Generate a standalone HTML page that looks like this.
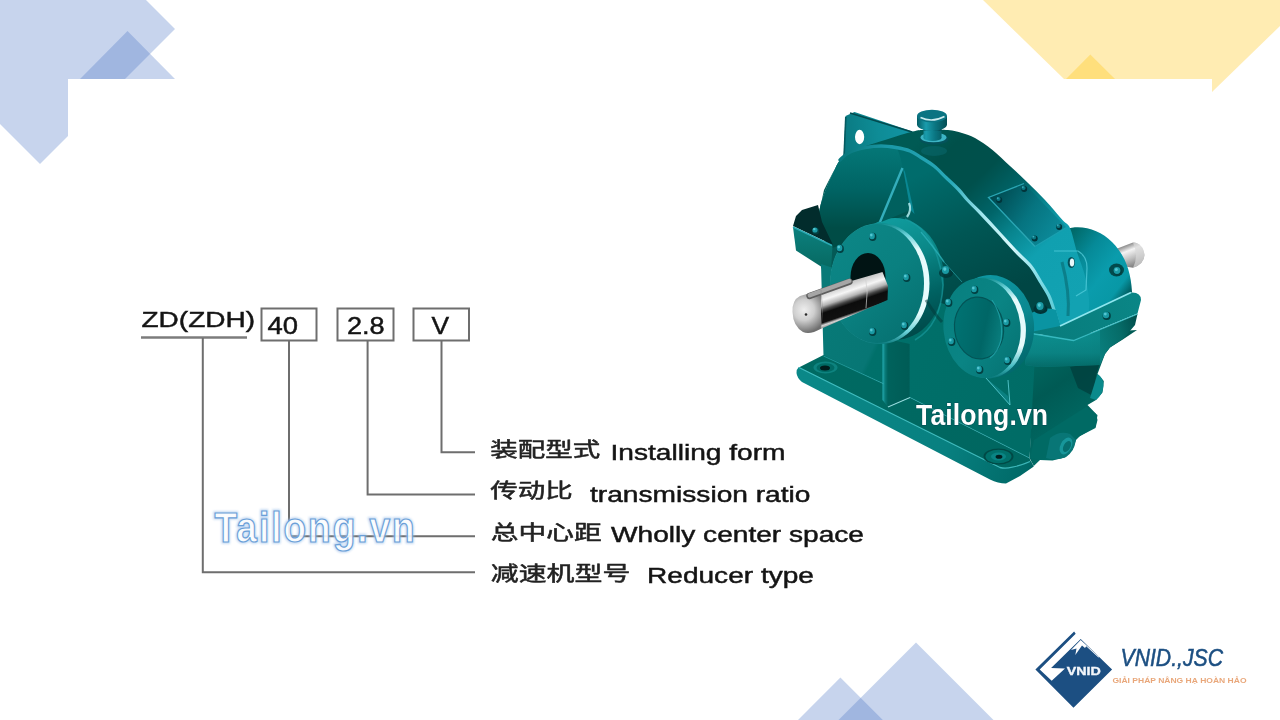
<!DOCTYPE html>
<html lang="vi">
<head>
<meta charset="utf-8">
<title>ZD(ZDH) Reducer type - Tailong.vn</title>
<style>
html,body{margin:0;padding:0;}
body{width:1280px;height:720px;overflow:hidden;background:#fff;position:relative;font-family:"Liberation Sans",sans-serif;}
svg{position:absolute;left:0;top:0;display:block;}
text{font-family:"Liberation Sans",sans-serif;}
</style>
</head>
<body>
<!-- background decoration -->
<svg width="1280" height="720" viewBox="0 0 1280 720">
  <polygon points="0,0 146,0 175,29 125,79 68,79 68,136 40,164 0,124" fill="#4472c4" fill-opacity="0.3"/>
  <polygon points="127.5,31 175,79 80,79" fill="#4472c4" fill-opacity="0.3"/>
  <polygon points="983,0 1280,0 1280,26 1212,92 1212,79 1064,79" fill="#ffc000" fill-opacity="0.3"/>
  <polygon points="1090.3,54.5 1115,79 1066,79" fill="#ffc000" fill-opacity="0.3"/>
  <polygon points="916,642.5 993.5,720 838.5,720" fill="#4472c4" fill-opacity="0.3"/>
  <polygon points="840.4,677.6 882.8,720 798,720" fill="#4472c4" fill-opacity="0.3"/>
</svg>

<!-- model designation diagram -->
<svg width="1280" height="720" viewBox="0 0 1280 720" style="filter:blur(0.6px)">
  <g fill="none" stroke="#6e6e6e" stroke-width="2">
    <line x1="141" y1="337.5" x2="247" y2="337.5" stroke-width="2.6" stroke="#7c7c7c"/>
    <rect x="261.5" y="308.5" width="55" height="32"/>
    <rect x="337.5" y="308.5" width="56" height="32"/>
    <rect x="413.5" y="308.5" width="55.5" height="32"/>
    <polyline points="441.5,341 441.5,452.2 475,452.2"/>
    <polyline points="367.6,341 367.6,494.4 475,494.4"/>
    <polyline points="289,341 289,536.3 475,536.3"/>
    <polyline points="202.8,338 202.8,572.2 475,572.2"/>
  </g>
  <g fill="#141414" stroke="#141414" stroke-width="0.45" font-size="21.6">
    <text x="141.5" y="326.5" textLength="113.5" lengthAdjust="spacingAndGlyphs" font-size="22.7">ZD(ZDH)</text>
    <text x="267.5" y="333.8" textLength="30.5" lengthAdjust="spacingAndGlyphs" font-size="23">40</text>
    <text x="347" y="334.2" textLength="37.7" lengthAdjust="spacingAndGlyphs" font-size="24">2.8</text>
    <text x="431.4" y="333.6" textLength="17.6" lengthAdjust="spacingAndGlyphs" font-size="23.2">V</text>
    <text x="610.5" y="460" textLength="175" lengthAdjust="spacingAndGlyphs" font-size="21.5">Installing form</text>
    <text x="590" y="501.6" textLength="220.5" lengthAdjust="spacingAndGlyphs" font-size="21.5">transmission ratio</text>
    <text x="611" y="542.2" textLength="253" lengthAdjust="spacingAndGlyphs" font-size="21.5">Wholly center space</text>
    <text x="647" y="583.4" textLength="167" lengthAdjust="spacingAndGlyphs" font-size="21.5">Reducer type</text>
  </g>
  <g fill="#222" stroke="#222" stroke-width="0.5" stroke-linejoin="round" font-size="20.5" style="font-family:'Liberation Sans','Noto Sans CJK SC',sans-serif">
<g aria-label="装配型式"><text x="490.3" y="457.2" textLength="110" lengthAdjust="spacingAndGlyphs" style="font-family:'Liberation Sans','Noto Sans CJK SC',sans-serif">装配型式</text></g>
<g aria-label="传动比"><text x="490.3" y="498.4" textLength="82.5" lengthAdjust="spacingAndGlyphs" style="font-family:'Liberation Sans','Noto Sans CJK SC',sans-serif">传动比</text></g>
<g aria-label="总中心距"><text x="490.8" y="540" textLength="110.8" lengthAdjust="spacingAndGlyphs" style="font-family:'Liberation Sans','Noto Sans CJK SC',sans-serif">总中心距</text></g>
<g aria-label="减速机型号"><text x="490.8" y="580.6" textLength="139.5" lengthAdjust="spacingAndGlyphs" style="font-family:'Liberation Sans','Noto Sans CJK SC',sans-serif">减速机型号</text></g>
  </g>
</svg>

<!-- watermark on diagram -->
<svg width="1280" height="720" viewBox="0 0 1280 720">
  <defs>
    <filter id="glow" x="-10%" y="-30%" width="120%" height="160%"><feGaussianBlur stdDeviation="1.1"/></filter>
  </defs>
  <g transform="translate(214.5 542) scale(0.88 1)">
  <text x="0" y="0" textLength="227.5" lengthAdjust="spacing" font-size="42" font-weight="bold" fill="none" stroke="#9cc0ea" stroke-width="3.6" filter="url(#glow)" opacity="0.6">Tailong.vn</text>
  <text x="0" y="0" textLength="227.5" lengthAdjust="spacing" font-size="42" font-weight="bold" fill="#ffffff" fill-opacity="0.88" stroke="#6a9fd8" stroke-width="1.25">Tailong.vn</text>
  </g>
</svg>

<!-- gearbox illustration -->
<svg width="1280" height="720" viewBox="0 0 1280 720">
<defs><linearGradient id="gTop" gradientUnits="userSpaceOnUse" x1="925" y1="135" x2="1080" y2="300"><stop offset="0" stop-color="#005a54"/><stop offset="0.12" stop-color="#00504a"/><stop offset="0.3" stop-color="#00504c"/><stop offset="0.45" stop-color="#006468"/><stop offset="0.58" stop-color="#088690"/><stop offset="0.72" stop-color="#10a0b0"/><stop offset="1" stop-color="#12a2b2"/></linearGradient><linearGradient id="gFrontL" gradientUnits="userSpaceOnUse" x1="0" y1="150" x2="0" y2="228"><stop offset="0" stop-color="#047676"/><stop offset="0.5" stop-color="#006464"/><stop offset="1" stop-color="#004c46"/></linearGradient><linearGradient id="gFrontR" gradientUnits="userSpaceOnUse" x1="930" y1="170" x2="990" y2="300"><stop offset="0" stop-color="#006c6c"/><stop offset="0.5" stop-color="#005654"/><stop offset="1" stop-color="#004644"/></linearGradient><linearGradient id="gLug" gradientUnits="userSpaceOnUse" x1="845" y1="140" x2="912" y2="132"><stop offset="0" stop-color="#0a7a82"/><stop offset="0.5" stop-color="#0e8c96"/><stop offset="1" stop-color="#1294a4"/></linearGradient><linearGradient id="gShaft" gradientUnits="userSpaceOnUse" x1="844" y1="281" x2="856" y2="316"><stop offset="0" stop-color="#9a9a9a"/><stop offset="0.08" stop-color="#c4c4c4"/><stop offset="0.3" stop-color="#f6f6f6"/><stop offset="0.45" stop-color="#b4b4b4"/><stop offset="0.55" stop-color="#484848"/><stop offset="0.64" stop-color="#0c0c0c"/><stop offset="0.88" stop-color="#101010"/><stop offset="0.95" stop-color="#d4d4d4"/><stop offset="1" stop-color="#a8a8a8"/></linearGradient><radialGradient id="gShaftEnd" gradientUnits="userSpaceOnUse" cx="804" cy="310" r="23" ><stop offset="0" stop-color="#eeeeee"/><stop offset="0.45" stop-color="#cfcfcf"/><stop offset="1" stop-color="#6e6e6e"/></radialGradient><linearGradient id="gShaftR" gradientUnits="userSpaceOnUse" x1="1126" y1="243" x2="1136" y2="268"><stop offset="0" stop-color="#6a6a6a"/><stop offset="0.3" stop-color="#f4f4f4"/><stop offset="0.6" stop-color="#c0c0c0"/><stop offset="1" stop-color="#707070"/></linearGradient><linearGradient id="gDome" gradientUnits="userSpaceOnUse" x1="1068" y1="238" x2="1134" y2="288"><stop offset="0" stop-color="#006a6a"/><stop offset="0.3" stop-color="#068a98"/><stop offset="0.6" stop-color="#0a9cac"/><stop offset="0.85" stop-color="#0898a6"/><stop offset="1" stop-color="#005a5c"/></linearGradient><linearGradient id="gFlange" gradientUnits="userSpaceOnUse" x1="835" y1="240" x2="920" y2="330"><stop offset="0" stop-color="#0c8686"/><stop offset="0.5" stop-color="#0a8080"/><stop offset="1" stop-color="#067070"/></linearGradient><linearGradient id="gHub" gradientUnits="userSpaceOnUse" x1="900" y1="218" x2="940" y2="335"><stop offset="0" stop-color="#109a9c"/><stop offset="0.3" stop-color="#0a8888"/><stop offset="0.65" stop-color="#006262"/><stop offset="1" stop-color="#004444"/></linearGradient><linearGradient id="gCover" gradientUnits="userSpaceOnUse" x1="945" y1="300" x2="1020" y2="360"><stop offset="0" stop-color="#088080"/><stop offset="0.5" stop-color="#0a8484"/><stop offset="1" stop-color="#067474"/></linearGradient><linearGradient id="gDisc" gradientUnits="userSpaceOnUse" x1="955" y1="320" x2="1004" y2="336"><stop offset="0" stop-color="#007272"/><stop offset="0.6" stop-color="#006666"/><stop offset="1" stop-color="#0a8080"/></linearGradient><linearGradient id="gHub2" gradientUnits="userSpaceOnUse" x1="985" y1="280" x2="1035" y2="370"><stop offset="0" stop-color="#0e96a2"/><stop offset="0.5" stop-color="#0a8890"/><stop offset="1" stop-color="#006064"/></linearGradient><linearGradient id="gPlate" gradientUnits="userSpaceOnUse" x1="995" y1="195" x2="1058" y2="238"><stop offset="0" stop-color="#004c52"/><stop offset="0.5" stop-color="#067480"/><stop offset="1" stop-color="#0c8c9c"/></linearGradient><linearGradient id="gLower" gradientUnits="userSpaceOnUse" x1="822" y1="300" x2="1035" y2="400"><stop offset="0" stop-color="#087a78"/><stop offset="0.28" stop-color="#077674"/><stop offset="0.3" stop-color="#00706a"/><stop offset="1" stop-color="#006c66"/></linearGradient><linearGradient id="gSide" gradientUnits="userSpaceOnUse" x1="1040" y1="350" x2="1095" y2="430"><stop offset="0" stop-color="#006860"/><stop offset="0.4" stop-color="#005a54"/><stop offset="1" stop-color="#006c66"/></linearGradient><linearGradient id="gBaseTop" gradientUnits="userSpaceOnUse" x1="800" y1="365" x2="1060" y2="470"><stop offset="0" stop-color="#006a62"/><stop offset="1" stop-color="#006660"/></linearGradient><linearGradient id="gBaseEdge" gradientUnits="userSpaceOnUse" x1="800" y1="375" x2="1050" y2="480"><stop offset="0" stop-color="#0a8888"/><stop offset="0.6" stop-color="#088080"/><stop offset="0.9" stop-color="#006a68"/><stop offset="1" stop-color="#005252"/></linearGradient><linearGradient id="gStrapTop" gradientUnits="userSpaceOnUse" x1="1040" y1="335" x2="1140" y2="295"><stop offset="0" stop-color="#087c7c"/><stop offset="1" stop-color="#0a8686"/></linearGradient><linearGradient id="gStrapFace" gradientUnits="userSpaceOnUse" x1="1030" y1="350" x2="1140" y2="318"><stop offset="0" stop-color="#0c8a8a"/><stop offset="0.5" stop-color="#0a8484"/><stop offset="0.8" stop-color="#066c68"/><stop offset="1" stop-color="#004a48"/></linearGradient><linearGradient id="gStrapFaceV" gradientUnits="userSpaceOnUse" x1="0" y1="338" x2="0" y2="368"><stop offset="0" stop-color="#0c8c8c"/><stop offset="0.5" stop-color="#0a8080"/><stop offset="1" stop-color="#005c58"/></linearGradient><linearGradient id="gCap" gradientUnits="userSpaceOnUse" x1="917" y1="0" x2="947" y2="0"><stop offset="0" stop-color="#045c64"/><stop offset="0.3" stop-color="#1a9cac"/><stop offset="0.6" stop-color="#0a7682"/><stop offset="1" stop-color="#044e54"/></linearGradient><linearGradient id="gWeb" gradientUnits="userSpaceOnUse" x1="882" y1="370" x2="912" y2="370"><stop offset="0" stop-color="#2ab6be"/><stop offset="0.1" stop-color="#0a7c7a"/><stop offset="0.2" stop-color="#00625c"/><stop offset="0.9" stop-color="#005c56"/><stop offset="1" stop-color="#0a8484"/></linearGradient><linearGradient id="gLFl" gradientUnits="userSpaceOnUse" x1="0" y1="228" x2="0" y2="270"><stop offset="0" stop-color="#0c807e"/><stop offset="1" stop-color="#066860"/></linearGradient><linearGradient id="gRidge" gradientUnits="userSpaceOnUse" x1="819" y1="213" x2="1061" y2="328"><stop offset="0" stop-color="#0a7a80"/><stop offset="0.12" stop-color="#1a98a6"/><stop offset="0.4" stop-color="#2aaaba"/><stop offset="0.55" stop-color="#9fe6ee"/><stop offset="0.7" stop-color="#d8f8fb"/><stop offset="0.85" stop-color="#7fdce6"/><stop offset="1" stop-color="#4cc4d0"/></linearGradient><linearGradient id="gRim" gradientUnits="userSpaceOnUse" x1="0" y1="223" x2="0" y2="344"><stop offset="0" stop-color="#0c8a8c"/><stop offset="0.1" stop-color="#6ad2da"/><stop offset="0.22" stop-color="#e6fbfc"/><stop offset="0.75" stop-color="#e6fbfc"/><stop offset="0.9" stop-color="#6ad2da"/><stop offset="1" stop-color="#0a7a7c"/></linearGradient><linearGradient id="gRim2" gradientUnits="userSpaceOnUse" x1="0" y1="278" x2="0" y2="378"><stop offset="0" stop-color="#0c8a8c"/><stop offset="0.12" stop-color="#6ad2da"/><stop offset="0.25" stop-color="#e6fbfc"/><stop offset="0.72" stop-color="#e6fbfc"/><stop offset="0.9" stop-color="#4cc0c8"/><stop offset="1" stop-color="#0a7a7c"/></linearGradient></defs>
<g style="filter:blur(0.7px)">
<polygon points="845.5,116 854.5,112 914,132 906,152 843.5,160" fill="url(#gLug)"/>
<line x1="845.8" y1="117" x2="844" y2="158" stroke="#055a60" stroke-width="1.6"/>
<line x1="850" y1="113" x2="912" y2="132" stroke="#034a4e" stroke-width="1.6"/>
<ellipse cx="859.6" cy="137" rx="4.6" ry="7.2" fill="#fff"/>
<path d="M1116,249 L1133,242.5 Q1143,243 1144.5,255 Q1144,264 1133,267.8 L1122,266 Z" fill="url(#gShaftR)"/>
<path d="M1133,242.5 Q1143,243 1144.5,255 Q1144,264 1133,267.8 Q1139,256 1133,242.5 Z" fill="#d8d8d8" opacity="0.7"/>
<path d="M1066,229 C1082,224 1100,230 1112,242 C1124,254 1131,270 1132,292 L1100,312 L1084,324 L1056,268 Z" fill="url(#gDome)"/>
<ellipse cx="1116.5" cy="270" rx="7.5" ry="6.5" fill="#024a4c"/>
<ellipse cx="1117.7" cy="271.4" rx="4.3" ry="4.3" fill="#024042"/>
<ellipse cx="1117.0" cy="270.5" rx="3.4" ry="3.4" fill="#1a9aa4"/>
<ellipse cx="1116.3" cy="269.6" rx="1.5" ry="1.5" fill="#6ad6e0" opacity="0.75"/>
<path d="M819.0,213.0 C819.5,210.8 820.3,205.2 822.0,200.0 C823.7,194.8 826.8,187.2 829.0,182.0 C831.2,176.8 833.2,172.7 835.0,169.0 C836.8,165.3 838.2,162.4 840.0,160.0 C841.8,157.6 843.9,156.0 846.0,154.5 C848.1,153.0 849.3,152.2 852.5,151.0 C855.7,149.8 860.2,148.3 865.0,147.5 C869.8,146.7 875.8,146.0 881.0,146.0 C886.2,146.0 891.2,146.7 896.0,147.5 C900.8,148.3 905.8,149.3 910.0,151.0 C914.2,152.7 917.0,155.0 921.0,157.5 C925.0,160.0 929.8,162.7 934.0,166.0 C938.2,169.3 941.8,173.5 946.0,177.5 C950.2,181.5 955.4,186.2 959.0,190.0 C962.6,193.8 964.0,196.2 967.5,200.0 C971.0,203.8 974.6,206.8 980.0,212.5 C985.4,218.2 993.8,227.2 1000.0,234.0 C1006.2,240.8 1012.3,247.6 1017.5,253.0 C1022.7,258.4 1027.1,261.6 1031.0,266.5 C1034.9,271.4 1038.0,277.6 1041.0,282.5 C1044.0,287.4 1046.8,291.4 1049.0,296.0 C1051.2,300.6 1052.3,305.0 1054.0,310.0 C1055.7,315.0 1058.2,323.3 1059.0,326.0 L1088.0,322.0 C1088.2,318.3 1089.5,307.7 1089.0,300.0 C1088.5,292.3 1087.0,284.0 1085.0,276.0 C1083.0,268.0 1079.5,260.0 1077.0,252.0 C1074.5,244.0 1072.4,233.3 1070.0,228.0 C1067.6,222.7 1066.7,224.7 1062.5,220.0 C1058.3,215.3 1050.8,206.2 1045.0,200.0 C1039.2,193.8 1033.3,188.2 1027.5,182.5 C1021.7,176.8 1015.8,171.4 1010.0,166.0 C1004.2,160.6 998.3,154.7 992.5,150.0 C986.7,145.3 980.1,140.8 975.0,138.0 C969.9,135.2 966.5,134.3 962.0,133.0 C957.5,131.7 954.2,130.5 948.0,130.0 C941.8,129.5 930.8,129.8 925.0,130.0 C919.2,130.2 919.7,129.8 913.0,131.5 C906.3,133.2 895.5,136.6 885.0,140.0 C874.5,143.4 857.8,148.0 850.0,152.0 C842.2,156.0 842.3,157.7 838.0,164.0 C833.7,170.3 826.3,185.7 824.0,190.0 Z" fill="url(#gTop)"/>
<path d="M819.0,213.0 C819.5,210.8 820.3,205.2 822.0,200.0 C823.7,194.8 826.8,187.2 829.0,182.0 C831.2,176.8 833.2,172.7 835.0,169.0 C836.8,165.3 838.2,162.4 840.0,160.0 C841.8,157.6 843.9,156.0 846.0,154.5 C848.1,153.0 849.3,152.2 852.5,151.0 C855.7,149.8 860.2,148.3 865.0,147.5 C869.8,146.7 875.8,146.0 881.0,146.0 C886.2,146.0 891.2,146.7 896.0,147.5 C900.8,148.3 905.8,149.3 910.0,151.0 C914.2,152.7 917.0,155.0 921.0,157.5 C925.0,160.0 929.8,162.7 934.0,166.0 C938.2,169.3 941.8,173.5 946.0,177.5 C950.2,181.5 955.4,186.2 959.0,190.0 C962.6,193.8 964.0,196.2 967.5,200.0 C971.0,203.8 974.6,206.8 980.0,212.5 C985.4,218.2 993.8,227.2 1000.0,234.0 C1006.2,240.8 1012.3,247.6 1017.5,253.0 C1022.7,258.4 1027.1,261.6 1031.0,266.5 C1034.9,271.4 1038.0,277.6 1041.0,282.5 C1044.0,287.4 1046.8,291.4 1049.0,296.0 C1051.2,300.6 1052.3,305.0 1054.0,310.0 C1055.7,315.0 1058.2,323.3 1059.0,326.0 L1030,338 L940,306 L830,262 Z" fill="url(#gFrontR)"/>
<path d="M819.0,213.0 C819.5,210.8 820.3,205.2 822.0,200.0 C823.7,194.8 826.8,187.2 829.0,182.0 C831.2,176.8 833.2,172.7 835.0,169.0 C836.8,165.3 838.2,162.4 840.0,160.0 C841.8,157.6 843.9,156.0 846.0,154.5 C848.1,153.0 849.3,152.2 852.5,151.0 C855.7,149.8 860.2,148.3 865.0,147.5 C869.8,146.7 875.8,146.0 881.0,146.0 C886.2,146.0 892.3,143.8 896.0,147.5 C899.7,151.2 901.8,164.6 903.0,168.0 L910,214 L880,224 L830,262 Z" fill="url(#gFrontL)"/>
<path d="M840.0,160.0 C841.0,159.1 843.9,156.0 846.0,154.5 C848.1,153.0 849.3,152.2 852.5,151.0 C855.7,149.8 860.2,148.3 865.0,147.5 C869.8,146.7 875.8,146.0 881.0,146.0 C886.2,146.0 891.2,146.7 896.0,147.5 C900.8,148.3 905.8,149.3 910.0,151.0 C914.2,152.7 917.0,155.0 921.0,157.5 C925.0,160.0 929.8,162.7 934.0,166.0 C938.2,169.3 941.8,173.5 946.0,177.5 C950.2,181.5 955.4,186.2 959.0,190.0 C962.6,193.8 964.0,196.2 967.5,200.0 C971.0,203.8 974.6,206.8 980.0,212.5 C985.4,218.2 993.8,227.2 1000.0,234.0 C1006.2,240.8 1012.3,247.6 1017.5,253.0 C1022.7,258.4 1027.1,261.6 1031.0,266.5 C1034.9,271.4 1038.0,277.6 1041.0,282.5 C1044.0,287.4 1046.8,291.4 1049.0,296.0 C1051.2,300.6 1052.3,305.0 1054.0,310.0 C1055.7,315.0 1058.2,323.3 1059.0,326.0" fill="none" stroke="url(#gRidge)" stroke-width="3.3" stroke-linecap="round"/>
<path d="M1054,251 L1078,251 Q1087,256 1087,268 L1086,290 L1076,296" fill="none" stroke="#5ad2e0" stroke-width="1.2" opacity="0.7"/>
<path d="M1062,262 Q1070,292 1068,316" fill="none" stroke="#055e64" stroke-width="3" opacity="0.5"/>
<ellipse cx="1071.3" cy="262.5" rx="3.6" ry="5.6" fill="#04505a"/><ellipse cx="1072" cy="262.5" rx="2.2" ry="4" fill="#eaf8fa"/>
<polygon points="826,250 838,246 838,278 821,268" fill="#045a56"/>
<polygon points="793,226 796,216 802,210 818,205 822,222 833,245" fill="#022c2c"/>
<polygon points="793,227 832.5,245.5 831,271 821,266.5 796,250.5" fill="url(#gLFl)"/>
<line x1="793" y1="227" x2="832" y2="245.5" stroke="#2aaab4" stroke-width="1.5"/>
<ellipse cx="815.7" cy="230.9" rx="3.5" ry="3.5" fill="#024042"/>
<ellipse cx="815.0" cy="230.0" rx="2.6" ry="2.6" fill="#1a9aa4"/>
<ellipse cx="814.3" cy="229.1" rx="1.2" ry="1.2" fill="#6ad6e0" opacity="0.75"/>
<polygon points="821,264 1036,334 1036,368 1029.5,458 910,397.5 884,384 823.5,356" fill="url(#gLower)"/>
<polygon points="1036,336 1137,330 1122,340 1110,347.5 1105,354 1097.5,374 1103.8,381 1102.5,392.5 1096,400 1087.5,405 1096,413.8 1097.5,420 1095.5,428 1080,436 1076,440 1072.5,450 1065,457.5 1052.5,460.5 1040,460 1033.8,466 1029.5,458" fill="url(#gSide)"/>
<polygon points="1070,367 1100,362 1096,376 1093,396 1078,388" fill="#003c3a" opacity="0.7"/>
<polygon points="1034,440 1086,407 1097.5,415 1095.5,427 1080,436 1052,452 1040,460 1030,458" fill="#006a64"/>
<path d="M1097.5,374 Q1104,378 1103.5,386 Q1103,394 1096,400 L1090,398 Z" fill="#0a8a8c"/>
<path d="M1050,438 Q1060,430 1070,434 L1076,440 Q1074,452 1066,457 Q1056,461 1046,458 Z" fill="#087676"/>
<ellipse cx="1066" cy="446" rx="5.5" ry="9" transform="rotate(28 1066 446)" fill="#1a9a9e" opacity="0.9"/>
<ellipse cx="1067" cy="446.5" rx="3.4" ry="6" transform="rotate(28 1067 446.5)" fill="#066e6e"/>
<path d="M798.8,367.5 L823.5,355 L884,384 L888,407 L910,397.5 L1029.5,458 L1031,462 L1012,470 L1000,468 Z" fill="url(#gBaseTop)"/>
<path d="M796.5,373 Q796.5,369 798.8,367 L1000,467.5 Q1010,470 1031,461 L1033.8,466.5 L1020,476 L1006,483.5 Q998,483.5 990,479.5 L802,382 Q797,378 796.5,373 Z" fill="url(#gBaseEdge)"/>
<path d="M799,367.5 L1000,467.5 Q1010,470 1030,461.5" fill="none" stroke="#48c4c8" stroke-width="1.3" opacity="0.85"/>
<ellipse cx="825.5" cy="367.5" rx="12" ry="6" fill="#1a9c9c" opacity="0.5"/><ellipse cx="825.5" cy="367.7" rx="9" ry="4.4" fill="#006a64"/><ellipse cx="825" cy="368" rx="5" ry="2.5" fill="#011c1c"/>
<ellipse cx="998.5" cy="456.5" rx="15" ry="8" fill="#004a46"/><ellipse cx="998.5" cy="456.5" rx="13" ry="6.8" fill="#00706a"/><ellipse cx="998.5" cy="456.5" rx="7.5" ry="4" fill="#0a8484"/><ellipse cx="999" cy="456.8" rx="3.4" ry="2" fill="#012020"/>
<polygon points="882.5,338 910,344 910,397.5 888,407 882.5,400" fill="url(#gWeb)"/>
<polyline points="910,397.5 1029.5,458" fill="none" stroke="#2aa8ae" stroke-width="1" opacity="0.7"/>
<polyline points="823.5,356 884,384" fill="none" stroke="#2aa8ae" stroke-width="1" opacity="0.7"/>
<line x1="888" y1="407" x2="910" y2="397.5" stroke="#a8ecf0" stroke-width="1.1" opacity="0.8"/>
<path d="M1020,324 Q1036,304 1056,310 L1061,327 L1030,334 Z" fill="#0a94a2"/>
<polygon points="1028.5,332.5 1073.5,340.5 1137.5,314 1135,325 1124,338 1110,347.5 1105,354 1100,365 1040,367 1025,365" fill="url(#gStrapFace)"/>
<polygon points="1028.5,333 1073.5,341 1100,330 1100,365 1040,367 1025,365" fill="url(#gStrapFaceV)" opacity="0.7"/>
<path d="M1060,326 L1131,292.5 Q1141,292 1141,300 L1137.5,313.5 L1073.5,340 L1028.5,332.5 Z" fill="url(#gStrapTop)"/>
<polyline points="1060,326 1131,292.5" fill="none" stroke="#8ee6ee" stroke-width="1.7"/>
<polyline points="1028.5,333 1073.5,340.5 1137.5,314" fill="none" stroke="#3cc0c8" stroke-width="1.3" opacity="0.9"/>
<ellipse cx="1106.7" cy="315.9" rx="4.1" ry="4.1" fill="#024042"/>
<ellipse cx="1106.0" cy="315.0" rx="3.2" ry="3.2" fill="#1a9aa4"/>
<ellipse cx="1105.3" cy="314.1" rx="1.4" ry="1.4" fill="#6ad6e0" opacity="0.75"/>
<ellipse cx="1040.5" cy="309" rx="7" ry="5" fill="#013436"/>
<ellipse cx="1040.7" cy="306.9" rx="4.5" ry="4.9" fill="#024042"/>
<ellipse cx="1040.0" cy="306.0" rx="3.6" ry="4.0" fill="#1a9aa4"/>
<ellipse cx="1039.3" cy="305.1" rx="1.6" ry="1.8" fill="#6ad6e0" opacity="0.75"/>
<ellipse cx="895" cy="279" rx="49" ry="61" fill="url(#gHub)"/>
<path d="M905,219 Q938,232 943,285 Q941,325 915,340" fill="none" stroke="#1a9ea4" stroke-width="1.6" opacity="0.6"/>
<ellipse cx="880" cy="283.5" rx="49.5" ry="60.5" fill="url(#gRim)"/>
<ellipse cx="877" cy="283.5" rx="47" ry="59.5" fill="url(#gFlange)"/>
<ellipse cx="872.7" cy="236.9" rx="3.7" ry="4.1" fill="#024042"/>
<ellipse cx="872.0" cy="236.0" rx="2.8" ry="3.2" fill="#1a9aa4"/>
<ellipse cx="871.3" cy="235.1" rx="1.3" ry="1.4" fill="#6ad6e0" opacity="0.75"/>
<ellipse cx="840.2" cy="248.9" rx="3.7" ry="4.1" fill="#024042"/>
<ellipse cx="839.5" cy="248.0" rx="2.8" ry="3.2" fill="#1a9aa4"/>
<ellipse cx="838.8" cy="247.1" rx="1.3" ry="1.4" fill="#6ad6e0" opacity="0.75"/>
<ellipse cx="906.7" cy="277.9" rx="3.7" ry="4.1" fill="#024042"/>
<ellipse cx="906.0" cy="277.0" rx="2.8" ry="3.2" fill="#1a9aa4"/>
<ellipse cx="905.3" cy="276.1" rx="1.3" ry="1.4" fill="#6ad6e0" opacity="0.75"/>
<ellipse cx="904.7" cy="325.9" rx="3.7" ry="4.1" fill="#024042"/>
<ellipse cx="904.0" cy="325.0" rx="2.8" ry="3.2" fill="#1a9aa4"/>
<ellipse cx="903.3" cy="324.1" rx="1.3" ry="1.4" fill="#6ad6e0" opacity="0.75"/>
<ellipse cx="872.7" cy="331.9" rx="3.7" ry="4.1" fill="#024042"/>
<ellipse cx="872.0" cy="331.0" rx="2.8" ry="3.2" fill="#1a9aa4"/>
<ellipse cx="871.3" cy="330.1" rx="1.3" ry="1.4" fill="#6ad6e0" opacity="0.75"/>
<ellipse cx="841.7" cy="306.9" rx="3.7" ry="4.1" fill="#024042"/>
<ellipse cx="841.0" cy="306.0" rx="2.8" ry="3.2" fill="#1a9aa4"/>
<ellipse cx="840.3" cy="305.1" rx="1.3" ry="1.4" fill="#6ad6e0" opacity="0.75"/>
<ellipse cx="868" cy="277" rx="17.5" ry="24" fill="#011414"/>
<polygon points="821,289.7 882.5,272 888,286 887.5,300 821,328.8" fill="url(#gShaft)"/>
<path d="M821,289.7 L800,296 Q792,300 792.5,312 Q793,326 803,332 Q810,335 821,328.8 Z" fill="url(#gShaftEnd)"/>
<path d="M809.5,296 L849.5,281.7" stroke="#5e5e5e" stroke-width="6.4" stroke-linecap="round" fill="none"/>
<path d="M809.8,295.3 L849.3,281" stroke="#a6a6a6" stroke-width="4.4" stroke-linecap="round" fill="none"/>
<circle cx="806" cy="314.5" r="1.3" fill="#2a2a2a"/>
<path d="M865.5,277 Q868.5,292 866,308" stroke="#d0d0d0" stroke-width="1" fill="none" opacity="0.7"/>
<path d="M821,289.7 Q824,310 821,328.8" stroke="#8a8a8a" stroke-width="0.8" fill="none" opacity="0.6"/>
<ellipse cx="992" cy="326" rx="42" ry="51" fill="url(#gHub2)" transform="rotate(-6 992 326)"/>
<ellipse cx="985.8" cy="328" rx="40" ry="50.5" fill="url(#gRim2)" transform="rotate(-6 985.8 328)"/>
<ellipse cx="982" cy="328" rx="38.5" ry="50" fill="url(#gCover)" transform="rotate(-6 982 328)"/>
<ellipse cx="979" cy="328" rx="24.5" ry="31" fill="url(#gDisc)" stroke="#035456" stroke-width="1.2" transform="rotate(-6 979 328)"/>
<path d="M992,300 Q1004,318 1001,340 Q998,352 990,358" fill="none" stroke="#22a4aa" stroke-width="1.1" opacity="0.8"/>
<ellipse cx="974.7" cy="289.9" rx="3.7" ry="4.1" fill="#024042"/>
<ellipse cx="974.0" cy="289.0" rx="2.8" ry="3.2" fill="#1a9aa4"/>
<ellipse cx="973.3" cy="288.1" rx="1.3" ry="1.4" fill="#6ad6e0" opacity="0.75"/>
<ellipse cx="1006.7" cy="322.9" rx="3.7" ry="4.1" fill="#024042"/>
<ellipse cx="1006.0" cy="322.0" rx="2.8" ry="3.2" fill="#1a9aa4"/>
<ellipse cx="1005.3" cy="321.1" rx="1.3" ry="1.4" fill="#6ad6e0" opacity="0.75"/>
<ellipse cx="1007.7" cy="360.9" rx="3.7" ry="4.1" fill="#024042"/>
<ellipse cx="1007.0" cy="360.0" rx="2.8" ry="3.2" fill="#1a9aa4"/>
<ellipse cx="1006.3" cy="359.1" rx="1.3" ry="1.4" fill="#6ad6e0" opacity="0.75"/>
<ellipse cx="979.7" cy="369.9" rx="3.7" ry="4.1" fill="#024042"/>
<ellipse cx="979.0" cy="369.0" rx="2.8" ry="3.2" fill="#1a9aa4"/>
<ellipse cx="978.3" cy="368.1" rx="1.3" ry="1.4" fill="#6ad6e0" opacity="0.75"/>
<ellipse cx="951.7" cy="341.9" rx="3.7" ry="4.1" fill="#024042"/>
<ellipse cx="951.0" cy="341.0" rx="2.8" ry="3.2" fill="#1a9aa4"/>
<ellipse cx="950.3" cy="340.1" rx="1.3" ry="1.4" fill="#6ad6e0" opacity="0.75"/>
<ellipse cx="948.7" cy="302.9" rx="3.7" ry="4.1" fill="#024042"/>
<ellipse cx="948.0" cy="302.0" rx="2.8" ry="3.2" fill="#1a9aa4"/>
<ellipse cx="947.3" cy="301.1" rx="1.3" ry="1.4" fill="#6ad6e0" opacity="0.75"/>
<ellipse cx="946" cy="273" rx="7" ry="5" fill="#013436" opacity="0.8"/>
<ellipse cx="946.2" cy="270.9" rx="4.5" ry="4.9" fill="#024042"/>
<ellipse cx="945.5" cy="270.0" rx="3.6" ry="4.0" fill="#1a9aa4"/>
<ellipse cx="944.8" cy="269.1" rx="1.6" ry="1.8" fill="#6ad6e0" opacity="0.75"/>
<path d="M921,232 Q936,250 944,262" fill="none" stroke="#2cb0b8" stroke-width="1.4" opacity="0.8"/>
<path d="M944,262 L962,282" fill="none" stroke="#2cb0b8" stroke-width="1" opacity="0.6"/>
<path d="M926,300 Q936,316 942,322" fill="none" stroke="#013c3c" stroke-width="3" opacity="0.55"/>
<polygon points="902.5,167.5 910.5,210 880,222.5" fill="#00605e"/>
<line x1="902.5" y1="168" x2="880" y2="222" stroke="#34aebc" stroke-width="2.4"/>
<polygon points="903,168 905,172 914.5,214 910.5,210" fill="#0a8894"/>
<path d="M909,203 Q912,210 907,217" stroke="#b4ecf0" stroke-width="2.2" fill="none" opacity="0.85"/>
<polygon points="986,378 1008,396 1010,405" fill="#0a8080"/>
<polyline points="986,378 1010,405 1008,380" fill="none" stroke="#62d2da" stroke-width="1" opacity="0.8"/>
<polygon points="988.5,197.5 1024,183.5 1066.5,227.5 1035,246.5" fill="url(#gPlate)"/>
<polyline points="1035,246.5 988.5,197.5 1024,183.5" fill="none" stroke="#2aa6b4" stroke-width="1.3"/>
<polyline points="1035,246.5 1066.5,227.5" fill="none" stroke="#1aa0b0" stroke-width="1.2"/>
<ellipse cx="999.2" cy="199.9" rx="3.0" ry="3.0" fill="#01343a"/>
<ellipse cx="998.5" cy="199.0" rx="2.1" ry="2.1" fill="#0a7884"/>
<ellipse cx="997.8" cy="198.1" rx="0.9" ry="0.9" fill="#4cc0d0" opacity="0.75"/>
<ellipse cx="1024.2" cy="188.9" rx="3.0" ry="3.0" fill="#01343a"/>
<ellipse cx="1023.5" cy="188.0" rx="2.1" ry="2.1" fill="#0a7884"/>
<ellipse cx="1022.8" cy="187.1" rx="0.9" ry="0.9" fill="#4cc0d0" opacity="0.75"/>
<ellipse cx="1059.2" cy="226.9" rx="3.0" ry="3.0" fill="#01343a"/>
<ellipse cx="1058.5" cy="226.0" rx="2.1" ry="2.1" fill="#0a7884"/>
<ellipse cx="1057.8" cy="225.1" rx="0.9" ry="0.9" fill="#4cc0d0" opacity="0.75"/>
<ellipse cx="1034.7" cy="238.4" rx="3.0" ry="3.0" fill="#01343a"/>
<ellipse cx="1034.0" cy="237.5" rx="2.1" ry="2.1" fill="#0a7884"/>
<ellipse cx="1033.3" cy="236.6" rx="0.9" ry="0.9" fill="#4cc0d0" opacity="0.75"/>
<ellipse cx="934" cy="151" rx="13" ry="5" fill="#0a6a70" opacity="0.5"/>
<ellipse cx="934" cy="139" rx="14.5" ry="5.8" fill="#04525a"/>
<ellipse cx="933.5" cy="137.5" rx="13" ry="4.8" fill="#3cb4c4"/>
<rect x="923.5" y="124" width="18" height="14" fill="url(#gCap)"/>
<ellipse cx="932.5" cy="138" rx="9" ry="3" fill="url(#gCap)"/>
<rect x="923.5" y="126" width="18" height="4.5" fill="#013038" opacity="0.75"/>
<path d="M917,116 L917,124.5 A15,6.5 0 0 0 947,124.5 L947,116 Z" fill="url(#gCap)"/>
<ellipse cx="932" cy="116" rx="15" ry="6.3" fill="#0a7482"/>
<path d="M920.5,117.5 Q932,123 944.5,116.5" stroke="#e0f8fa" stroke-width="1.5" fill="none" opacity="0.9"/>
<g transform="translate(916 424.6) scale(0.9 1)"><text x="0" y="0" textLength="146.7" lengthAdjust="spacing" font-size="29.5" font-weight="bold" fill="#ffffff" stroke="#0a3c50" stroke-opacity="0.4" stroke-width="1.4" paint-order="stroke">Tailong.vn</text></g>
</g>
</svg>

<!-- VNID logo -->
<svg width="1280" height="720" viewBox="0 0 1280 720">
  <g style="filter:blur(0.35px)">
  <polygon fill="#1c4f82" points="1035.4,669.4 1074.1,631.6 1075.7,633.7 1039.7,669.4 1051.7,680.8 1065,668.5 1051.1,667.9 1080.7,638.9 1112.1,669.4 1073.5,707.7"/>
  <polygon fill="#ffffff" points="1080.7,640 1071,650 1076.5,648.5 1075.3,655 1082,645.6 1085,648 1086.2,646.2 1098.5,657.6 1099.2,657"/>
  <text x="1066.8" y="674.7" textLength="34" lengthAdjust="spacingAndGlyphs" font-size="11.6" font-weight="bold" fill="#f3f6fa" stroke="#f3f6fa" stroke-width="0.35">VNID</text>
  <text x="1120.5" y="665.8" textLength="102.5" lengthAdjust="spacingAndGlyphs" font-size="24.5" font-style="italic" fill="#1c4f82" stroke="#1c4f82" stroke-width="0.55">VNID.,JSC</text>
  <text x="1112.5" y="682.9" textLength="134" lengthAdjust="spacingAndGlyphs" font-size="7.6" font-weight="bold" fill="#e9a77a">GIẢI PHÁP NÂNG HẠ HOÀN HẢO</text>
  </g>
</svg>
</body>
</html>
